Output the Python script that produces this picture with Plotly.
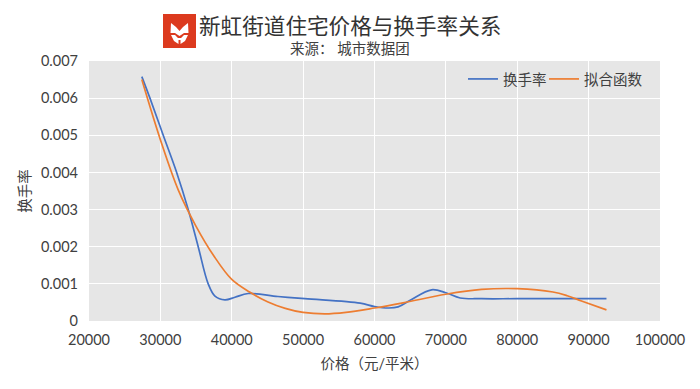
import plotly.graph_objects as go

title_text = "新虹街道住宅价格与换手率关系"
subtitle_text = "来源\uff1a 城市数据团"
x_title = "价格\uff08元/平米\uff09"
y_title = "换手率"
blue_name = "换手率"
orange_name = "拟合函数"

blue_x = [27400, 28540, 30400, 32280, 33900, 35300, 36700, 37650, 39050, 40450, 42300, 46470, 50250, 58000, 60000, 62000, 63300, 65000, 68000, 70000, 72000, 75000, 80000, 92500]
blue_y = [0.00658, 0.006, 0.005, 0.004, 0.003, 0.002, 0.001, 0.00067, 0.00057, 0.00064, 0.00074, 0.00066, 0.0006, 0.00048, 0.00039, 0.00035, 0.00038, 0.00056, 0.00084, 0.00076, 0.00062, 0.0006, 0.0006, 0.0006]

orange_x = [27400, 30000, 32500, 35000, 37500, 40000, 42500, 45000, 47500, 50000, 53000, 56000, 60000, 64000, 70000, 75000, 80000, 85000, 87000, 89000, 92500]
orange_y = [0.0065, 0.00488, 0.00353, 0.00255, 0.00175, 0.00112, 0.00078, 0.00052, 0.00034, 0.00023, 0.00019, 0.00023, 0.00035, 0.00049, 0.00072, 0.00085, 0.00087, 0.00078, 0.00068, 0.00054, 0.0003]

x_ticks = [20000, 30000, 40000, 50000, 60000, 70000, 80000, 90000, 100000]
y_ticks = [0, 0.001, 0.002, 0.003, 0.004, 0.005, 0.006, 0.007]
y_tick_labels = ["0", "0.001", "0.002", "0.003", "0.004", "0.005", "0.006", "0.007"]

FONT = "Lato, 'Noto Sans CJK SC', sans-serif"
W, H = 700, 389
L, T, R, B = 89, 61, 660, 321
px = lambda v: (v - L) / (R - L)
py = lambda v: (B - v) / (B - T)

fig = go.Figure()
fig.add_trace(go.Scatter(x=blue_x, y=blue_y, name=blue_name, mode="lines", legend="legend",
                         line=dict(color="#4472C4", width=1.7, shape="spline", smoothing=1.0)))
fig.add_trace(go.Scatter(x=orange_x, y=orange_y, name=orange_name, mode="lines", legend="legend2",
                         line=dict(color="#ED7D31", width=1.7, shape="spline", smoothing=1.0)))

shapes = [dict(type="rect", xref="paper", yref="paper", x0=px(163), x1=px(196), y0=py(14), y1=py(48),
               fillcolor="#DC3A1E", line_width=0)]
def path(points):
    return "M " + " L ".join(f"{px(a)},{py(b)}" for a, b in points) + " Z"
shapes.append(dict(type="path", xref="paper", yref="paper", fillcolor="white", line_width=0,
                   path=path([(171, 23), (176, 27), (179.5, 31), (183, 27), (188, 23), (188.5, 33), (184, 33), (179.5, 36), (175, 33), (170.5, 33)])))
shapes.append(dict(type="path", xref="paper", yref="paper", fillcolor="white", line_width=0,
                   path=path([(171, 35), (175, 35), (178, 38), (181, 38), (184, 35), (188, 35), (185, 41), (180.5, 44), (180.5, 40), (178.5, 40), (178.5, 44), (174, 41)])))

legend_style = dict(yanchor="top", orientation="h", bgcolor="rgba(0,0,0,0)",
                    font=dict(size=14.5), itemwidth=30, tracegroupgap=0)

fig.update_layout(
    width=W, height=H,
    margin=dict(l=L, r=W - R, t=T, b=H - B),
    paper_bgcolor="white", plot_bgcolor="#E6E6E6",
    shapes=shapes,
    font=dict(family=FONT, color="#404040", size=14),
    xaxis=dict(range=[20000, 100000], tickvals=x_ticks, ticktext=[str(v) for v in x_ticks],
               gridcolor="white", gridwidth=1.3, zeroline=False, showline=False, ticks="",
               ticklabelstandoff=8, tickfont=dict(size=14.5),
               title=dict(text=x_title, font=dict(size=14.5), standoff=12)),
    yaxis=dict(range=[0, 0.007], tickvals=y_ticks, ticktext=y_tick_labels,
               gridcolor="white", gridwidth=1.3, zeroline=False, showline=False, ticks="",
               ticklabelstandoff=10, tickfont=dict(size=14.5),
               title=dict(text=y_title, font=dict(size=14.5), standoff=6)),
    showlegend=True,
    legend=dict(x=px(463), y=py(63), xanchor="left", **legend_style),
    legend2=dict(x=px(544), y=py(63), xanchor="left", **legend_style),
    annotations=[
        dict(text=title_text, xref="paper", yref="paper", x=px(350), y=py(26), xanchor="center", yanchor="middle",
             showarrow=False, font=dict(size=21.6, color="#333333")),
        dict(text=subtitle_text, xref="paper", yref="paper", x=px(350), y=py(49), xanchor="center", yanchor="middle",
             showarrow=False, font=dict(size=14.5, color="#404040")),
    ],
)
fig.write_html("out.html", post_script="document.body.style.margin='0';", config=dict(displayModeBar=False))
